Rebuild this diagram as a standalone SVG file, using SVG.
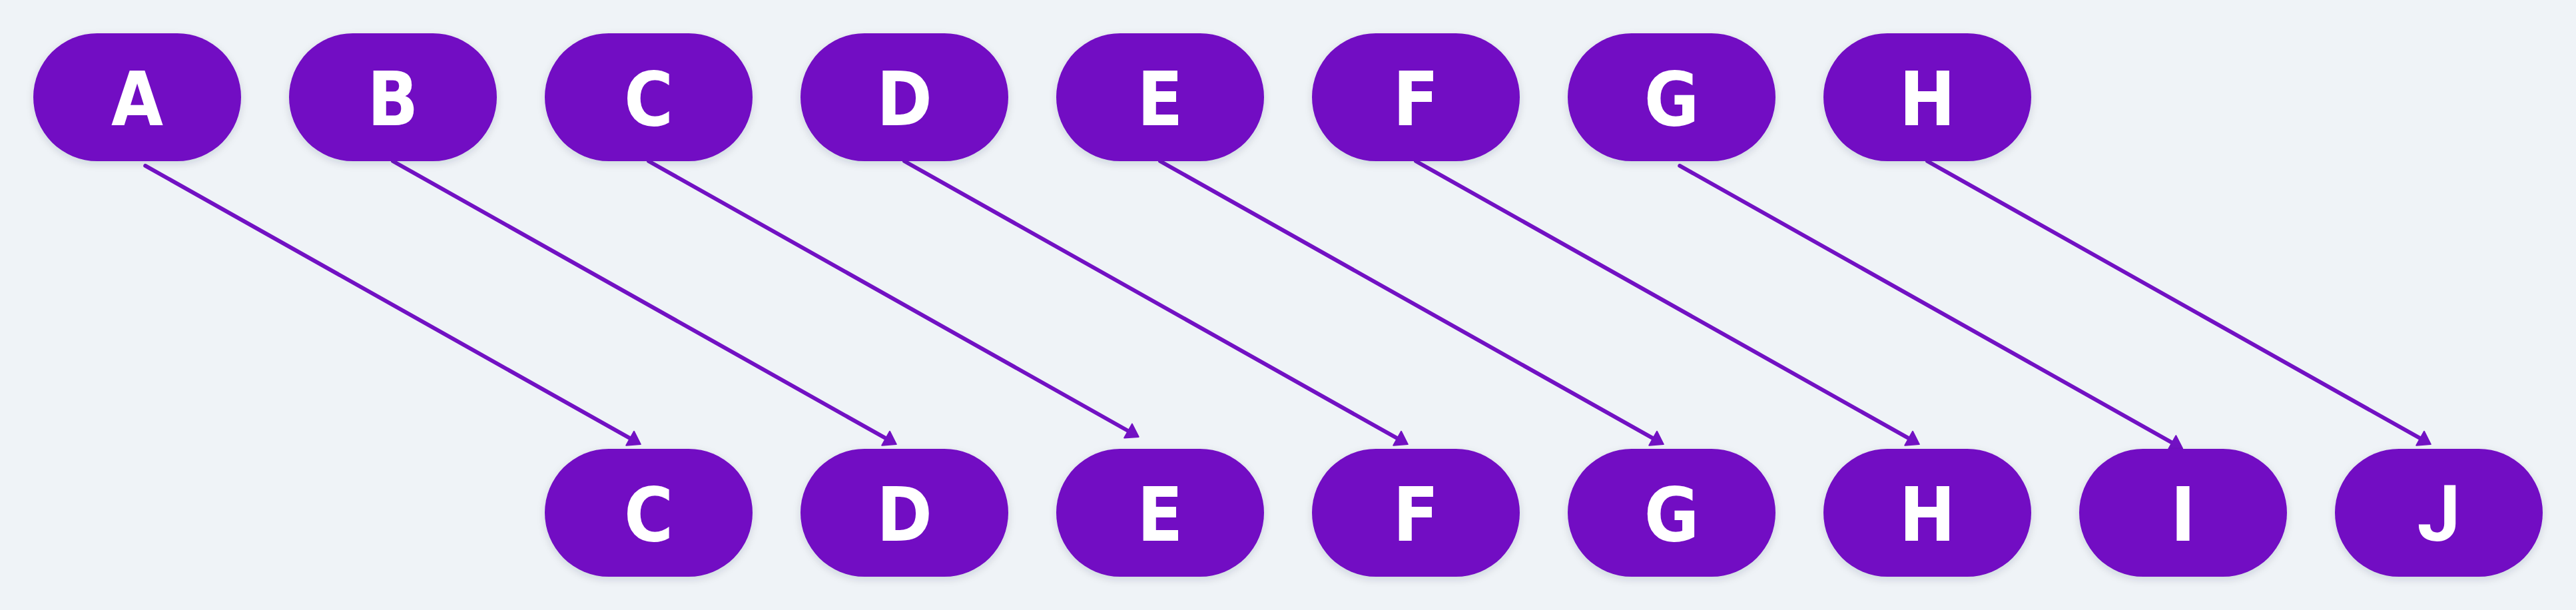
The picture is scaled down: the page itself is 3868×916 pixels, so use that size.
<svg xmlns="http://www.w3.org/2000/svg" width="3868" height="916" viewBox="0 0 3868 916">
<defs>
<style>
.node rect{fill:#7211c3;filter:url(#sh);}
.node text{fill:#ffffff;font-family:"DejaVu Sans Condensed","DejaVu Sans",sans-serif;font-weight:bold;font-stretch:condensed;font-size:112px;text-anchor:middle;}
.node text.alt{font-family:Roboto,"DejaVu Sans",sans-serif;font-stretch:normal;font-size:116px;}
.edge{stroke:#7211c3;stroke-width:6;fill:none;stroke-linecap:round;marker-end:url(#ah);}
</style>
<filter id="sh" x="-20%" y="-20%" width="140%" height="150%">
<feDropShadow dx="0" dy="4" stdDeviation="6" flood-color="#1a2040" flood-opacity="0.15"/>
</filter>
<marker id="ah" markerUnits="userSpaceOnUse" markerWidth="40" markerHeight="40" refX="8" refY="0" orient="auto" overflow="visible">
<path d="M0,-12 L18,0 L0,12 Z" fill="#7211c3" stroke="#7211c3" stroke-width="2" stroke-linejoin="round"/>
</marker>
</defs>
<rect width="3868" height="916" fill="#eff3f7"/>
<g id="connectors">
<line class="edge" x1="218.2" y1="248.9" x2="953.1" y2="662.2"/>
<line class="edge" x1="590" y1="242" x2="1337.1" y2="662.2"/>
<line class="edge" x1="974" y1="242" x2="1701.0" y2="651.0"/>
<line class="edge" x1="1358" y1="242" x2="2105.1" y2="662.2"/>
<line class="edge" x1="1742" y1="242" x2="2489.1" y2="662.2"/>
<line class="edge" x1="2126" y1="242" x2="2873.1" y2="662.2"/>
<line class="edge" x1="2522.2" y1="248.9" x2="3268.4" y2="668.6"/>
<line class="edge" x1="2894" y1="242" x2="3641.1" y2="662.2"/>
</g>
<g id="top-A" class="node"><rect x="50" y="50" width="312" height="192" rx="96"/><text x="206" y="188">A</text></g>
<g id="top-B" class="node"><rect x="434" y="50" width="312" height="192" rx="96"/><text x="590" y="188">B</text></g>
<g id="top-C" class="node"><rect x="818" y="50" width="312" height="192" rx="96"/><text x="974" y="188">C</text></g>
<g id="top-D" class="node"><rect x="1202" y="50" width="312" height="192" rx="96"/><text x="1358" y="188">D</text></g>
<g id="top-E" class="node"><rect x="1586" y="50" width="312" height="192" rx="96"/><text x="1742" y="188">E</text></g>
<g id="top-F" class="node"><rect x="1970" y="50" width="312" height="192" rx="96"/><text x="2126" y="188">F</text></g>
<g id="top-G" class="node"><rect x="2354" y="50" width="312" height="192" rx="96"/><text x="2510" y="188">G</text></g>
<g id="top-H" class="node"><rect x="2738" y="50" width="312" height="192" rx="96"/><text x="2894" y="188">H</text></g>
<g id="bottom-C" class="node"><rect x="818" y="674" width="312" height="192" rx="96"/><text x="974" y="812">C</text></g>
<g id="bottom-D" class="node"><rect x="1202" y="674" width="312" height="192" rx="96"/><text x="1358" y="812">D</text></g>
<g id="bottom-E" class="node"><rect x="1586" y="674" width="312" height="192" rx="96"/><text x="1742" y="812">E</text></g>
<g id="bottom-F" class="node"><rect x="1970" y="674" width="312" height="192" rx="96"/><text x="2126" y="812">F</text></g>
<g id="bottom-G" class="node"><rect x="2354" y="674" width="312" height="192" rx="96"/><text x="2510" y="812">G</text></g>
<g id="bottom-H" class="node"><rect x="2738" y="674" width="312" height="192" rx="96"/><text x="2894" y="812">H</text></g>
<g id="bottom-I" class="node"><rect x="3122" y="674" width="312" height="192" rx="96"/><text x="3278" y="812">I</text></g>
<g id="bottom-J" class="node"><rect x="3506" y="674" width="312" height="192" rx="96"/><text class="alt" x="3662" y="812">J</text></g>
</svg>
